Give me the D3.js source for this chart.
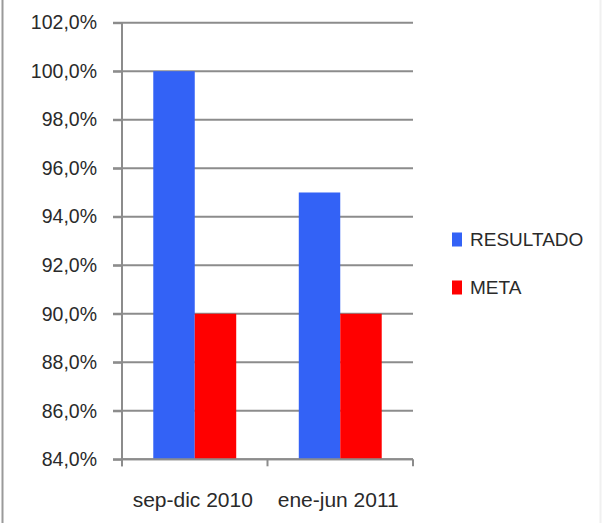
<!DOCTYPE html>
<html><head><meta charset="utf-8">
<script src="https://cdn.jsdelivr.net/npm/d3@7"></script>
<style>body{margin:0;background:#fff}svg{display:block}</style>
</head><body><svg id="c" width="603" height="523"></svg>
<script>
const categories = ["sep-dic 2010", "ene-jun 2011"];
const seriesNames = ["RESULTADO", "META"];
const resultado = [1.00, 0.95];
const meta = [0.90, 0.90];
const yTicks = [0.84, 0.86, 0.88, 0.90, 0.92, 0.94, 0.96, 0.98, 1.00, 1.02];
const colors = ["#3362F6", "#FF0000"];

(function () {
const svg = d3.select("#c");
const pLeft = 122, pRight = 413, pTop = 22.7, pBottom = 459.3;
const y = d3.scaleLinear().domain([0.84, 1.02]).range([pBottom, pTop]);
const x = d3.scaleBand().domain(categories).range([pLeft, pRight]).paddingInner(0.43).paddingOuter(0.215);
const xs = d3.scaleBand().domain(seriesNames).range([0, x.bandwidth()]);
const grid = "#8c8c8c";
const font = "'Liberation Sans', Arial, sans-serif";
const txt = "#2a2a2a";
const fmt = v => d3.format(".1f")(v * 100).replace(".", ",") + "%";

// border
svg.append("line").attr("x1", 2.5).attr("x2", 2.5).attr("y1", 0).attr("y2", 523).attr("stroke", "#9a9a9a").attr("stroke-width", 2);
svg.append("line").attr("x1", 600.5).attr("x2", 600.5).attr("y1", 0).attr("y2", 523).attr("stroke", "#f0f0f0").attr("stroke-width", 2);

// gridlines
svg.append("g").selectAll("line").data(yTicks).join("line")
  .attr("x1", 113).attr("x2", pRight).attr("y1", d => y(d)).attr("y2", d => y(d))
  .attr("stroke", grid).attr("stroke-width", 2);

// y axis
const ya = svg.append("g").attr("transform", `translate(${pLeft},0)`)
  .call(d3.axisLeft(y).tickValues(yTicks).tickFormat(fmt).tickSize(9).tickPadding(16));
ya.select(".domain").remove();
ya.selectAll(".tick line").attr("stroke", grid).attr("stroke-width", 2);
ya.selectAll("text").attr("font-family", font).attr("font-size", 19.5).attr("fill", txt);
svg.append("line").attr("x1", pLeft).attr("x2", pLeft).attr("y1", pTop).attr("y2", pBottom + 7).attr("stroke", grid).attr("stroke-width", 2);

// bars
const data = categories.map((c, i) => ({c, vals: [resultado[i], meta[i]]}));
svg.append("g").selectAll("g").data(data).join("g")
  .attr("transform", d => `translate(${x(d.c)},0)`)
  .selectAll("rect").data(d => d.vals.map((v, j) => ({s: seriesNames[j], v, j}))).join("rect")
  .attr("x", d => xs(d.s)).attr("width", xs.bandwidth())
  .attr("y", d => y(d.v)).attr("height", d => y(0.84) - y(d.v))
  .attr("fill", d => colors[d.j]);

// x axis
svg.append("line").attr("x1", pLeft).attr("x2", pRight).attr("y1", pBottom).attr("y2", pBottom).attr("stroke", grid).attr("stroke-width", 2);
const boundaries = [pLeft, pLeft + (pRight - pLeft) / 2, pRight];
svg.append("g").selectAll("line").data(boundaries).join("line")
  .attr("x1", d => d).attr("x2", d => d).attr("y1", pBottom).attr("y2", pBottom + 7)
  .attr("stroke", grid).attr("stroke-width", 2);
svg.append("g").selectAll("text").data(categories).join("text")
  .attr("x", d => x(d) + x.bandwidth() / 2 - 2).attr("y", 507)
  .attr("text-anchor", "middle").attr("font-family", font)
  .attr("font-size", 21).attr("fill", txt).text(d => d);

// legend
const lg = svg.append("g").selectAll("g").data(seriesNames).join("g")
  .attr("transform", (d, i) => `translate(452,${239.5 + i * 48})`);
lg.append("rect").attr("x", 0).attr("y", -7).attr("width", 10).attr("height", 14).attr("fill", (d, i) => colors[i]);
lg.append("text").attr("x", 18).attr("y", 0).attr("dy", "0.36em")
  .attr("font-family", font).attr("font-size", 19).attr("fill", txt).text(d => d);
})();
</script></body></html>
